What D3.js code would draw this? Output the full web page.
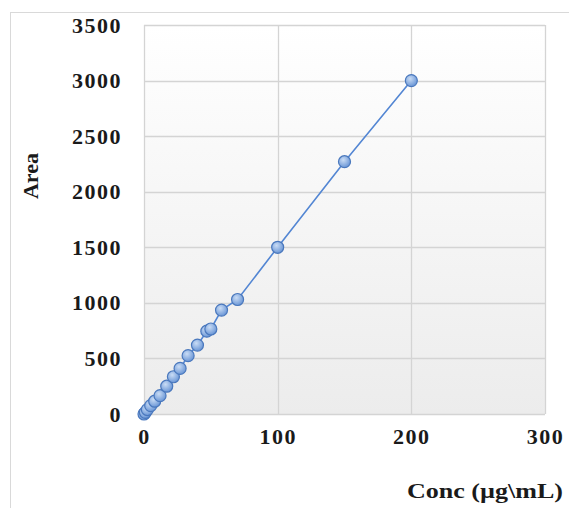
<!DOCTYPE html>
<html>
<head>
<meta charset="utf-8">
<script src="https://cdn.jsdelivr.net/npm/d3@7.9.0/dist/d3.min.js"></script>
<style>
  body { margin: 0; background: #fff; }
  svg text { font-family: "Liberation Serif", "Times New Roman", serif; font-weight: bold; fill: #1a1a1a; }
</style>
</head>
<body>
<svg id="chart" width="569" height="508"></svg>
<script>
// calibration data
const conc = [0, 1, 2.5, 5, 8, 12, 17, 22, 27, 33, 40, 47, 50, 58, 70, 100, 150, 200];
const area = [0, 15, 40, 75, 115, 165, 250, 335, 410, 525, 620, 745, 765, 935, 1030, 1500, 2270, 3000];
const xTicks = [0, 100, 200, 300];
const yTicks = [0, 500, 1000, 1500, 2000, 2500, 3000, 3500];

const points = conc.map((c, i) => ({ x: c, y: area[i] }));

const svg = d3.select('#chart');
const plot = { left: 144, right: 545, top: 25, bottom: 414 };

const x = d3.scaleLinear().domain([0, 300]).range([plot.left, plot.right]);
const y = d3.scaleLinear().domain([0, 3500]).range([plot.bottom, plot.top]);

// gradients
const defs = svg.append('defs');
const bg = defs.append('linearGradient').attr('id', 'bg').attr('x1', 0).attr('y1', 0).attr('x2', 0).attr('y2', 1);
bg.append('stop').attr('offset', '0%').attr('stop-color', '#ffffff');
bg.append('stop').attr('offset', '100%').attr('stop-color', '#ececec');

const dot = defs.append('radialGradient').attr('id', 'dot').attr('cx', '40%').attr('cy', '35%').attr('r', '65%');
dot.append('stop').attr('offset', '0%').attr('stop-color', '#c9dcf5');
dot.append('stop').attr('offset', '100%').attr('stop-color', '#6a96d6');

// outer chart frame
svg.append('rect')
  .attr('x', 10.5).attr('y', 12.5)
  .attr('width', 700).attr('height', 700)
  .attr('fill', '#fff')
  .attr('stroke', '#d9d9d9');

// plot area
svg.append('rect')
  .attr('x', plot.left).attr('y', plot.top)
  .attr('width', plot.right - plot.left).attr('height', plot.bottom - plot.top)
  .attr('fill', 'url(#bg)');

// grid lines
svg.append('g')
  .selectAll('line.h')
  .data(yTicks)
  .join('line')
  .attr('x1', plot.left).attr('x2', plot.right)
  .attr('y1', d => Math.round(y(d)) + 0.5).attr('y2', d => Math.round(y(d)) + 0.5)
  .attr('stroke', '#d4d4d4').attr('stroke-width', 1.3);

svg.append('g')
  .selectAll('line.v')
  .data(xTicks)
  .join('line')
  .attr('y1', plot.top).attr('y2', plot.bottom)
  .attr('x1', d => Math.round(x(d)) + 0.5).attr('x2', d => Math.round(x(d)) + 0.5)
  .attr('stroke', '#d4d4d4').attr('stroke-width', 1.3);

// axes (labels only, Excel style)
const xAxis = svg.append('g')
  .attr('transform', `translate(0,${plot.bottom})`)
  .call(d3.axisBottom(x).tickValues(xTicks).tickFormat(d3.format('d')).tickSize(0).tickPadding(14));
xAxis.select('.domain').remove();
xAxis.selectAll('text').attr('font-size', 22).attr('font-family', null).style('letter-spacing', '1.5px');

const yAxis = svg.append('g')
  .attr('transform', `translate(${plot.left},0)`)
  .call(d3.axisLeft(y).tickValues(yTicks).tickFormat(d3.format('d')).tickSize(0).tickPadding(22));
yAxis.select('.domain').remove();
yAxis.selectAll('text').attr('font-size', 22).attr('font-family', null).style('letter-spacing', '1.5px');

svg.selectAll('.tick text').attr('fill', '#1a1a1a');

// series line
const line = d3.line().x(d => x(d.x)).y(d => y(d.y));
svg.append('path')
  .datum(points)
  .attr('d', line)
  .attr('fill', 'none')
  .attr('stroke', '#5386d3')
  .attr('stroke-width', 1.6);

// markers
svg.append('g')
  .selectAll('circle')
  .data(points)
  .join('circle')
  .attr('cx', d => x(d.x))
  .attr('cy', d => y(d.y))
  .attr('r', 6)
  .attr('fill', 'url(#dot)')
  .attr('stroke', '#4a78bd')
  .attr('stroke-width', 1.2);

// axis titles
svg.append('text')
  .attr('x', 563).attr('y', 498)
  .attr('text-anchor', 'end')
  .attr('font-size', 22)
  .attr('textLength', 156)
  .attr('lengthAdjust', 'spacingAndGlyphs')
  .text('Conc (µg\\mL)');

svg.append('text')
  .attr('transform', 'translate(38,176) rotate(-90)')
  .attr('text-anchor', 'middle')
  .attr('font-size', 22)
  .text('Area');
</script>
</body>
</html>
